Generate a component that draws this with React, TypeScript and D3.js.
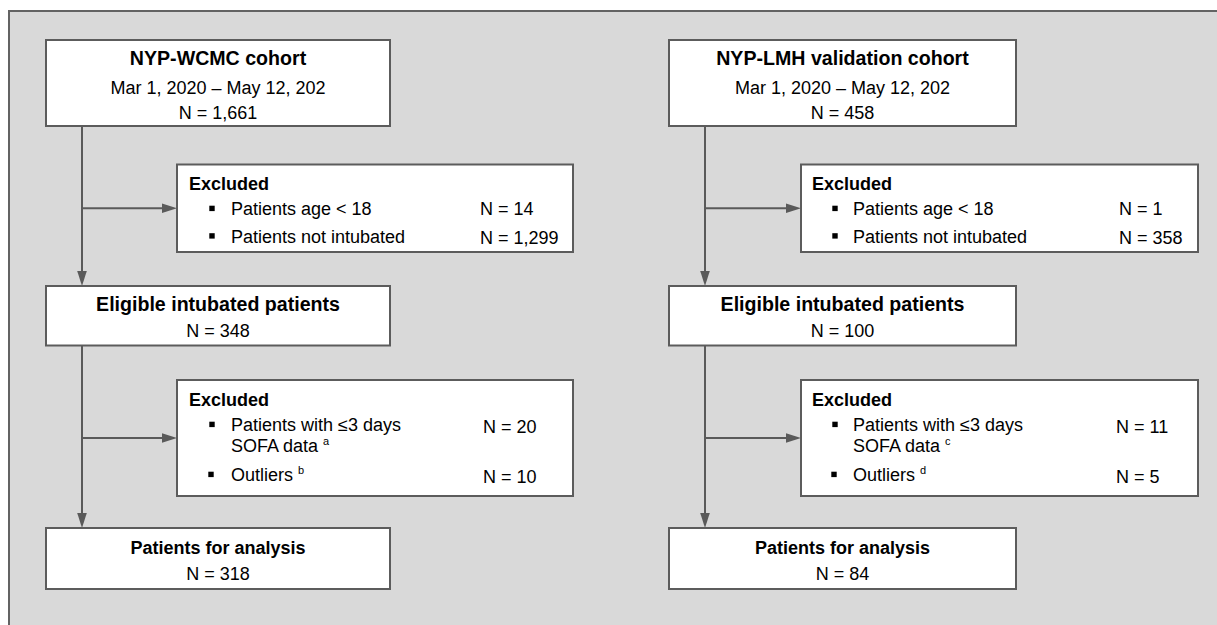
import React from "react";
import * as d3 from "d3";

// ---------- data ----------
const cohortTitles = ["NYP-WCMC cohort", "NYP-LMH validation cohort"];
const dateRanges = ["Mar 1, 2020 \u2013 May 12, 202", "Mar 1, 2020 \u2013 May 12, 202"];
const totalN = ["1,661", "458"];
const excl1Labels = ["Patients age < 18", "Patients not intubated"];
const excl1N = [["14", "1,299"], ["1", "358"]];
const eligibleTitle = "Eligible intubated patients";
const eligibleN = ["348", "100"];
const excl2Line1 = "Patients with \u22643 days";
const excl2Line2 = "SOFA data";
const excl2Outliers = "Outliers";
const excl2N = [["20", "10"], ["11", "5"]];
const excl2Notes = [["a", "b"], ["c", "d"]];
const analysisTitle = "Patients for analysis";
const analysisN = ["318", "84"];

// ---------- layout ----------
const W = 1217;
const H = 625;
const FONT = "'Liberation Sans', Arial, Helvetica, sans-serif";
const cols = [
  { boxX: 46, boxW: 344, lineX: 82, exX: 177, exW: 396, exTextX: 189, bulletX: 212, itemX: 231, n1X: 480, n2X: 483 },
  { boxX: 669, boxW: 347, lineX: 705, exX: 801, exW: 397, exTextX: 812, bulletX: 835, itemX: 853, n1X: 1119, n2X: 1116 },
];
const y = d3.scaleLinear().domain([0, 1]).range([0, 1]); // identity scale for vertical positions
const rows = {
  box1Top: 40, box1Bot: 126,
  ex1Top: 164.5, ex1Bot: 252, branch1: 208.3,
  eligTop: 286, eligBot: 345.5,
  ex2Top: 380, ex2Bot: 496, branch2: 438,
  anTop: 528, anBot: 589,
};
const LINE = "#5a5a5a";
const BOX = "#5c5c5c";
const ARROW_L = 15;
const ARROW_HW = 4.8;

function ArrowDown({ x, y1, y2 }: { x: number; y1: number; y2: number }) {
  const tip = y(y2);
  const path = d3.path();
  path.moveTo(x - ARROW_HW, tip - ARROW_L);
  path.lineTo(x + ARROW_HW, tip - ARROW_L);
  path.lineTo(x, tip);
  path.closePath();
  return (
    <g>
      <line x1={x} x2={x} y1={y(y1)} y2={tip - ARROW_L + 1} stroke={LINE} strokeWidth={2} />
      <path d={path.toString()} fill={LINE} />
    </g>
  );
}

function ArrowRight({ x1, x2, yy }: { x1: number; x2: number; yy: number }) {
  const path = d3.path();
  path.moveTo(x2 - ARROW_L, yy - ARROW_HW);
  path.lineTo(x2 - ARROW_L, yy + ARROW_HW);
  path.lineTo(x2, yy);
  path.closePath();
  return (
    <g>
      <line x1={x1} x2={x2 - ARROW_L + 1} y1={yy} y2={yy} stroke={LINE} strokeWidth={2} />
      <path d={path.toString()} fill={LINE} />
    </g>
  );
}

function Bullet({ x, baseline }: { x: number; baseline: number }) {
  return <rect x={x - 2.7} y={baseline - 9.3} width={5.4} height={5.4} fill="#000" />;
}

function Column({ i }: { i: number }) {
  const c = cols[i];
  const cx = c.boxX + c.boxW / 2;
  return (
    <g>
      {/* connectors */}
      <ArrowDown x={c.lineX} y1={rows.box1Bot} y2={rows.eligTop} />
      <ArrowDown x={c.lineX} y1={rows.eligBot} y2={rows.anTop} />
      <ArrowRight x1={c.lineX} x2={c.exX} yy={rows.branch1} />
      <ArrowRight x1={c.lineX} x2={c.exX} yy={rows.branch2} />

      {/* cohort box */}
      <rect x={c.boxX} y={rows.box1Top} width={c.boxW} height={rows.box1Bot - rows.box1Top} fill="#fff" stroke={BOX} strokeWidth={2} />
      <text x={cx} y={65} textAnchor="middle" fontWeight="bold" fontSize={19.6}>{cohortTitles[i]}</text>
      <text x={cx} y={93.5} textAnchor="middle" fontSize={18}>{dateRanges[i]}</text>
      <text x={cx} y={119} textAnchor="middle" fontSize={18}>{`N = ${totalN[i]}`}</text>

      {/* exclusion 1 */}
      <rect x={c.exX} y={rows.ex1Top} width={c.exW} height={rows.ex1Bot - rows.ex1Top} fill="#fff" stroke={BOX} strokeWidth={2} />
      <text x={c.exTextX} y={189.5} fontWeight="bold" fontSize={18}>Excluded</text>
      {excl1Labels.map((lab, k) => {
        const bl = k === 0 ? 215 : 242.5;
        return (
          <g key={k}>
            <Bullet x={c.bulletX} baseline={bl} />
            <text x={c.itemX} y={bl} fontSize={18}>{lab}</text>
            <text x={c.n1X} y={bl + (k === 1 ? 1 : 0)} fontSize={18}>{`N = ${excl1N[i][k]}`}</text>
          </g>
        );
      })}

      {/* eligible box */}
      <rect x={c.boxX} y={rows.eligTop} width={c.boxW} height={rows.eligBot - rows.eligTop} fill="#fff" stroke={BOX} strokeWidth={2} />
      <text x={cx} y={310.5} textAnchor="middle" fontWeight="bold" fontSize={19.6}>{eligibleTitle}</text>
      <text x={cx} y={337} textAnchor="middle" fontSize={18}>{`N = ${eligibleN[i]}`}</text>

      {/* exclusion 2 */}
      <rect x={c.exX} y={rows.ex2Top} width={c.exW} height={rows.ex2Bot - rows.ex2Top} fill="#fff" stroke={BOX} strokeWidth={2} />
      <text x={c.exTextX} y={405.5} fontWeight="bold" fontSize={18}>Excluded</text>
      <Bullet x={c.bulletX} baseline={431} />
      <text x={c.itemX} y={431} fontSize={18}>{excl2Line1}</text>
      <text x={c.itemX} y={451.5} fontSize={18}>
        {excl2Line2}
        <tspan dx={5} dy={-7} fontSize={11}>{excl2Notes[i][0]}</tspan>
      </text>
      <text x={c.n2X} y={433} fontSize={18}>{`N = ${excl2N[i][0]}`}</text>
      <Bullet x={c.bulletX - 1} baseline={481} />
      <text x={c.itemX} y={481} fontSize={18}>
        {excl2Outliers}
        <tspan dx={5} dy={-7} fontSize={11}>{excl2Notes[i][1]}</tspan>
      </text>
      <text x={c.n2X} y={482.5} fontSize={18}>{`N = ${excl2N[i][1]}`}</text>

      {/* analysis box */}
      <rect x={c.boxX} y={rows.anTop} width={c.boxW} height={rows.anBot - rows.anTop} fill="#fff" stroke={BOX} strokeWidth={2} />
      <text x={cx} y={554} textAnchor="middle" fontWeight="bold" fontSize={18}>{analysisTitle}</text>
      <text x={cx} y={580} textAnchor="middle" fontSize={18}>{`N = ${analysisN[i]}`}</text>
    </g>
  );
}

export default function App() {
  return (
    <svg
      width={W}
      height={H}
      viewBox={`0 0 ${W} ${H}`}
      style={{ position: "fixed", left: 0, top: 0, background: "#fff" }}
      fontFamily={FONT}
      fill="#000"
    >
      <rect x={9} y={11} width={W + 20} height={H + 20} fill="#d9d9d9" stroke="#636363" strokeWidth={2} />
      {cols.map((_, i) => (
        <Column key={i} i={i} />
      ))}
    </svg>
  );
}
